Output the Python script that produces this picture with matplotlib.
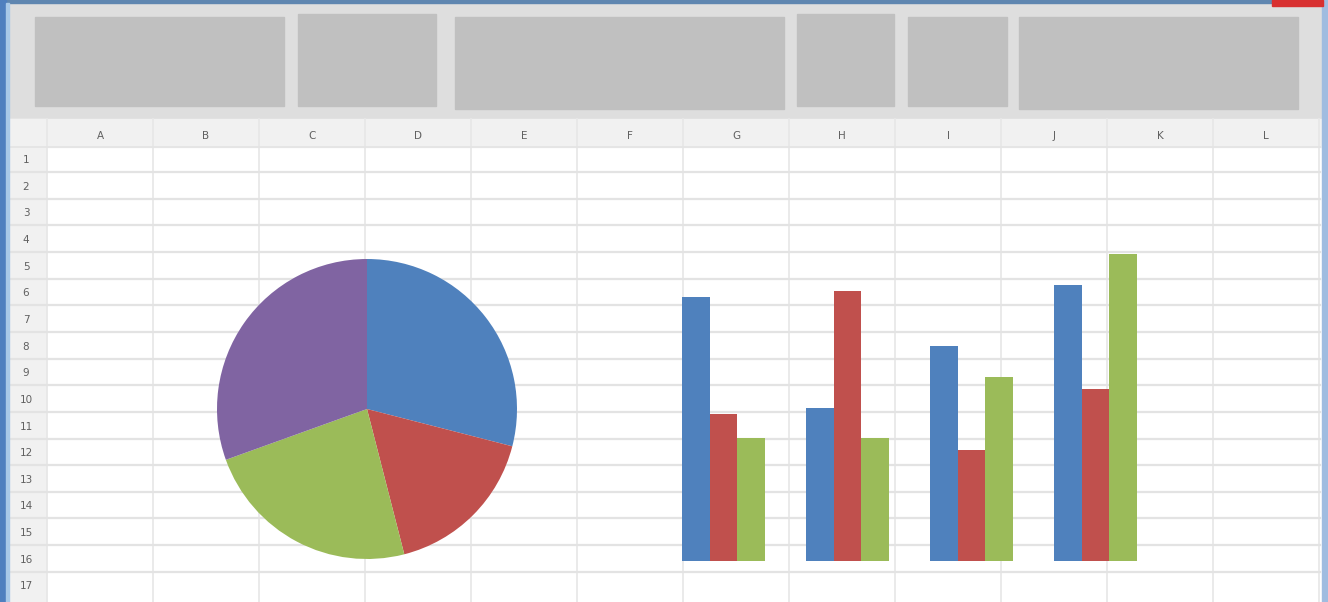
#!/usr/bin/python3
#
# Spreadsheet window mockup with a pie chart and a clustered bar chart

import matplotlib
matplotlib.use('Agg')
import matplotlib.pyplot as plt
from matplotlib.patches import Rectangle
import numpy as np

# sheet labels
col_labels = ['A', 'B', 'C', 'D', 'E', 'F', 'G', 'H', 'I', 'J', 'K', 'L']
row_labels = [str(i) for i in range(1, 18)]

# pie chart values (clockwise from top)
pie_values = [29, 17, 23.5, 30.5]
pie_colors = ['#4f81bd', '#c0504d', '#9bbb59', '#8064a2']

# clustered bars
categories = ['Category 1', 'Category 2', 'Category 3', 'Category 4']
series1 = [4.3, 2.5, 3.5, 4.5]
series2 = [2.4, 4.4, 1.8, 2.8]
series3 = [2.0, 2.0, 3.0, 5.0]
bar_colors = ['#4f81bd', '#c0504d', '#9bbb59']

W, H = 1328, 602
fig = plt.figure(figsize=(W / 100, H / 100), dpi=100)
fig.patch.set_facecolor('white')

# background axes in pixel coordinates
bg = fig.add_axes([0, 0, 1, 1])
bg.set_xlim(0, W)
bg.set_ylim(H, 0)
bg.axis('off')

# ribbon
bg.add_patch(Rectangle((0, 0), W, 119, color='#dedede', zorder=1))
ribbon_boxes = [(35, 17, 249, 89), (298, 14, 138, 92), (455, 17, 329, 92),
                (797, 14, 97, 92), (908, 17, 99, 89), (1019, 17, 279, 92)]
for x0, y0, w, h in ribbon_boxes:
    bg.add_patch(Rectangle((x0, y0), w, h, color='#c0c0c0', zorder=2))

# header row and row label column
bg.add_patch(Rectangle((0, 119), W, 28, color='#f1f1f1', zorder=1))
bg.add_patch(Rectangle((0, 119), 46, H - 119, color='#f1f1f1', zorder=1))

# grid
col_edges = 47 + 106.0 * np.arange(13)
row_edges = 172 + 26.65 * np.arange(16)
for x in col_edges:
    bg.plot([x, x], [119, H], color='#e8e8e8', lw=1.3, zorder=3)
for y in row_edges:
    bg.plot([0, 1320], [y, y], color='#e3e3e3', lw=1.6, zorder=3)
bg.plot([0, 1320], [147, 147], color='#e4e4e4', lw=1.3, zorder=3)

for i, lab in enumerate(col_labels):
    bg.text(col_edges[i] + 53, 136, lab, ha='center', va='center',
            fontsize=7.5, color='#606060', zorder=4)
for i, lab in enumerate(row_labels):
    bg.text(26, 160 + 26.65 * i, lab, ha='center', va='center',
            fontsize=7.5, color='#606060', zorder=4)

# window borders
bg.add_patch(Rectangle((0, 0), W, 3, color='#5f86b0', zorder=5))
bg.add_patch(Rectangle((0, 0), 6, H, color='#4f7fbf', zorder=5))
bg.add_patch(Rectangle((6, 3), 3, H, color='#a8c8e8', zorder=5))
bg.add_patch(Rectangle((1322, 0), 6, H, color='#a0bce0', zorder=5))
bg.add_patch(Rectangle((1272, 0), 51, 6, color='#d83030', zorder=6))

# pie chart, axes limits pinned to the unit circle
pie_ax = fig.add_axes([217 / W, 1 - 560 / H, 300 / W, 302 / H])
pie_ax.pie(pie_values, colors=pie_colors, startangle=90, counterclock=False,
           wedgeprops=dict(linewidth=0))
pie_ax.set_xlim(-1, 1)
pie_ax.set_ylim(-1, 1)
pie_ax.set_aspect('equal')

# bar chart, laid out so 1 unit ~ 61.4 px
bx0, bx1, by0, by1 = 660, 1160, 561, 240
bar_ax = fig.add_axes([bx0 / W, 1 - by0 / H, (bx1 - bx0) / W, (by0 - by1) / H])
bar_ax.patch.set_alpha(0)
x = np.arange(len(categories))
bw = 27.5 / 124
for k, s in enumerate([series1, series2, series3]):
    bar_ax.bar(x + (k - 1) * bw, s, width=bw, color=bar_colors[k], linewidth=0)
bar_ax.set_xlim(-(723.5 - bx0) / 124, (bx1 - 723.5) / 124)
bar_ax.set_ylim(0, (by0 - by1) / 61.4)
bar_ax.axis('off')

fig.savefig('out.png', dpi=100)
